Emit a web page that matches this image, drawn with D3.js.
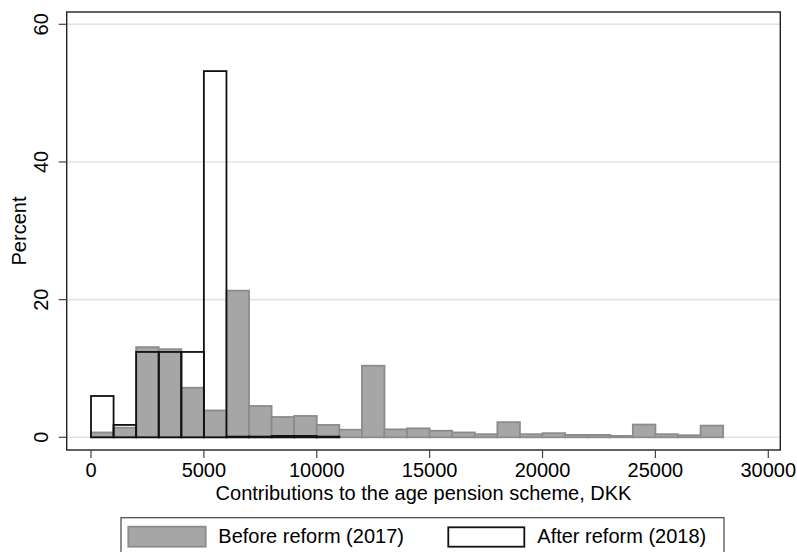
<!DOCTYPE html>
<html>
<head>
<meta charset="utf-8">
<script src="https://cdn.jsdelivr.net/npm/d3@7"></script>
<style>
  html, body { margin: 0; padding: 0; background: #fff; }
  svg { display: block; font-family: "Liberation Sans", Arial, sans-serif; }
</style>
</head>
<body>
<svg id="chart" width="797" height="552"></svg>
<script>
// ---- data ----
const binWidth = 1000;
const binsBefore = [0, 1000, 2000, 3000, 4000, 5000, 6000, 7000, 8000, 9000, 10000, 11000, 12000, 13000,
                    14000, 15000, 16000, 17000, 18000, 19000, 20000, 21000, 22000, 23000, 24000, 25000, 26000, 27000];
const valuesBefore = [0.7, 1.4, 13.1, 12.8, 7.2, 3.9, 21.3, 4.55, 2.95, 3.1, 1.8, 1.1, 10.4, 1.15,
                      1.3, 0.95, 0.7, 0.45, 2.2, 0.45, 0.6, 0.35, 0.35, 0.2, 1.85, 0.45, 0.3, 1.7];
const binsAfter = [0, 1000, 2000, 3000, 4000, 5000, 6000, 7000, 8000, 9000, 10000];
const valuesAfter = [6.0, 1.8, 12.4, 12.4, 12.4, 53.2, 0.1, 0.1, 0.2, 0.2, 0.1];
const xTicks = [0, 5000, 10000, 15000, 20000, 25000, 30000];
const yTicks = [0, 20, 40, 60];
const seriesNames = ["Before reform (2017)", "After reform (2018)"];
const xTitle = "Contributions to the age pension scheme, DKK";
const yTitle = "Percent";

// ---- layout ----
const frame = { left: 66.7, right: 780.3, top: 12, bottom: 450 };
const x = d3.scaleLinear().domain([0, 30000]).range([91, 768.3]);
const y = d3.scaleLinear().domain([0, 60]).range([437.3, 24.3]);
const svg = d3.select("#chart");
const FS = 20;

// gridlines
svg.append("g").selectAll("line").data(yTicks).join("line")
  .attr("x1", frame.left).attr("x2", frame.right)
  .attr("y1", d => y(d)).attr("y2", d => y(d))
  .attr("stroke", "#e3e3e3").attr("stroke-width", 1.6);

// before bars
const before = binsBefore.map((b, i) => ({ b, v: valuesBefore[i] }));
svg.append("g").selectAll("rect").data(before).join("rect")
  .attr("x", d => x(d.b)).attr("width", d => x(d.b + binWidth) - x(d.b))
  .attr("y", d => y(d.v)).attr("height", d => y(0) - y(d.v))
  .attr("fill", "#a6a6a6").attr("stroke", "#8c8c8c").attr("stroke-width", 1.8);

// after bars
const after = binsAfter.map((b, i) => ({ b, v: valuesAfter[i] }));
svg.append("g").selectAll("rect").data(after).join("rect")
  .attr("x", d => x(d.b)).attr("width", d => x(d.b + binWidth) - x(d.b))
  .attr("y", d => y(d.v)).attr("height", d => y(0) - y(d.v))
  .attr("fill", "none").attr("stroke", "#111").attr("stroke-width", 1.8);

// frame
svg.append("rect")
  .attr("x", frame.left).attr("y", frame.top)
  .attr("width", frame.right - frame.left).attr("height", frame.bottom - frame.top)
  .attr("fill", "none").attr("stroke", "#222").attr("stroke-width", 1.4);

// y axis ticks and labels
const yAxis = svg.append("g");
yAxis.selectAll("line").data(yTicks).join("line")
  .attr("x1", frame.left - 8).attr("x2", frame.left)
  .attr("y1", d => y(d)).attr("y2", d => y(d))
  .attr("stroke", "#444").attr("stroke-width", 1.2);
yAxis.selectAll("text").data(yTicks).join("text")
  .attr("transform", d => `translate(48,${y(d)}) rotate(-90)`)
  .attr("text-anchor", "middle").attr("font-size", FS).attr("fill", "#000")
  .text(d => d);

// x axis ticks and labels
const xAxis = svg.append("g");
xAxis.selectAll("line").data(xTicks).join("line")
  .attr("x1", d => x(d)).attr("x2", d => x(d))
  .attr("y1", frame.bottom).attr("y2", frame.bottom + 8)
  .attr("stroke", "#444").attr("stroke-width", 1.2);
xAxis.selectAll("text").data(xTicks).join("text")
  .attr("x", d => x(d)).attr("y", 477.3)
  .attr("text-anchor", "middle").attr("font-size", FS).attr("fill", "#000")
  .text(d => d);

// titles
svg.append("text").attr("x", (frame.left + frame.right) / 2).attr("y", 500)
  .attr("text-anchor", "middle").attr("font-size", FS).text(xTitle);
svg.append("text").attr("transform", `translate(26,${(frame.top + frame.bottom) / 2}) rotate(-90)`)
  .attr("text-anchor", "middle").attr("font-size", FS).text(yTitle);

// legend
const lg = svg.append("g");
lg.append("rect").attr("x", 121).attr("y", 517.7).attr("width", 603).attr("height", 50)
  .attr("fill", "#fff").attr("stroke", "#444").attr("stroke-width", 1.2);
lg.append("rect").attr("x", 128.3).attr("y", 526.7).attr("width", 77.4).attr("height", 20)
  .attr("fill", "#a6a6a6").attr("stroke", "#8c8c8c").attr("stroke-width", 1.8);
lg.append("text").attr("x", 218.3).attr("y", 542.7).attr("font-size", FS).text(seriesNames[0]);
lg.append("rect").attr("x", 448.3).attr("y", 527.3).attr("width", 76).attr("height", 19.4)
  .attr("fill", "#fff").attr("stroke", "#111").attr("stroke-width", 1.8);
lg.append("text").attr("x", 537.3).attr("y", 542.7).attr("font-size", FS).text(seriesNames[1]);
</script>
</body>
</html>
